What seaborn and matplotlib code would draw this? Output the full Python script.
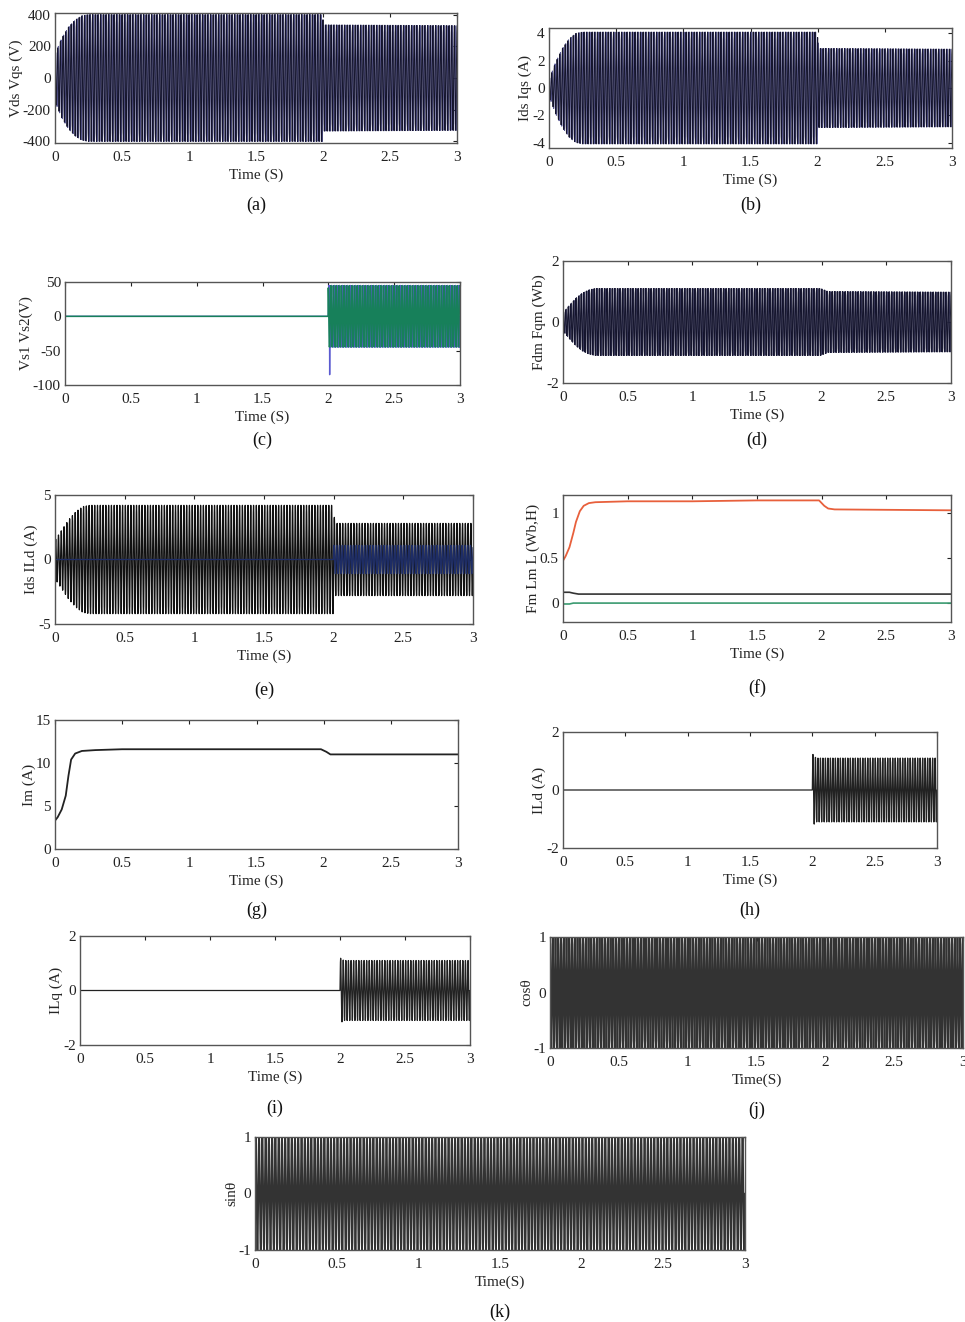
import numpy as np
import pandas as pd
import matplotlib
matplotlib.use("Agg")
import matplotlib.pyplot as plt
import matplotlib.transforms as mtransforms
import seaborn as sns

# ---- values ----
freq_hz = 50.0                      # stator supply frequency
t_grid = np.linspace(0, 3, 1801)    # simulation time axis (s)

# (a) Vds / Vqs envelope
va_t = [0, 0.05, 0.1, 0.15, 0.2, 0.25, 1.995, 2.005, 3.0]
va_amp = [150, 250, 320, 365, 392, 400, 400, 335, 330]

# (b) Ids / Iqs envelope
ib_t = [0, 0.05, 0.1, 0.15, 0.2, 0.25, 1.995, 2.01, 3.0]
ib_amp = [0.6, 1.9, 2.9, 3.6, 4.0, 4.1, 4.1, 2.9, 2.85]

# (c) Vs1 / Vs2 : zero before 2 s, then +-45 V, first dip -85 V
vc_t = [0, 1.999, 2.0, 3.0]
vc_amp = [0, 0, 45, 45]
vc_dip = -85

# (d) Fdm / Fqm envelope
fd_t = [0, 0.05, 0.1, 0.15, 0.2, 0.25, 1.99, 2.05, 3.0]
fd_amp = [0.3, 0.55, 0.78, 0.95, 1.05, 1.1, 1.1, 1.0, 0.98]

# (e) Ids envelope and ILd envelope
ie_t = [0, 0.05, 0.1, 0.15, 0.2, 0.25, 1.995, 2.01, 3.0]
ie_amp = [1.5, 2.3, 3.1, 3.7, 4.1, 4.2, 4.2, 2.8, 2.8]
ild_e_t = [0, 1.999, 2.0, 3.0]
ild_e_amp = [0, 0, 1.1, 1.1]

# (f) Fm, Lm, L
fm_t = [0, 0.02, 0.05, 0.08, 0.1, 0.13, 0.16, 0.2, 0.25, 0.5, 1.0, 1.5, 1.98, 2.02, 2.05, 2.1, 3.0]
fm_val = [0.47, 0.52, 0.62, 0.78, 0.9, 1.02, 1.08, 1.11, 1.12, 1.13, 1.13, 1.14, 1.14, 1.08, 1.05, 1.04, 1.03]
lm_t = [0, 0.05, 0.08, 0.12, 3.0]
lm_val = [0.12, 0.12, 0.11, 0.1, 0.1]
l_t = [0, 0.05, 0.08, 0.12, 3.0]
l_val = [-0.01, -0.01, 0.0, 0.0, 0.0]

# (g) Im
im_t = [0, 0.02, 0.05, 0.08, 0.1, 0.12, 0.15, 0.2, 0.3, 0.5, 1.0, 1.98, 2.02, 2.05, 3.0]
im_val = [3.3, 3.7, 4.6, 6.2, 8.5, 10.4, 11.1, 11.4, 11.5, 11.6, 11.6, 11.6, 11.3, 11.0, 11.0]

# (h) ILd, (i) ILq
ilh_t = [0, 1.999, 2.0, 2.03, 3.0]
ilh_amp = [0, 0, 1.25, 1.1, 1.1]
ili_t = [0, 1.999, 2.0, 2.03, 3.0]
ili_amp = [0, 0, 1.2, 1.1, 1.1]

xticks = [0, 0.5, 1, 1.5, 2, 2.5, 3]
xtick_labels = ["0", "0.5", "1", "1.5", "2", "2.5", "3"]

W, H = 965, 1322
sns.set_theme(style="white")
plt.rcParams["font.family"] = ["Liberation Serif", "DejaVu Serif"]

fig = plt.figure(figsize=(W / 100, H / 100), dpi=100)
fig.patch.set_facecolor("white")


def px_axes(l, t, r, b):
    return fig.add_axes([l / W, 1 - b / H, (r - l) / W, (b - t) / H])


def envelope(tk, ak):
    return np.interp(t_grid, tk, ak)


def draw(ax, x, y, color, lw=0.7):
    df = pd.DataFrame({"t": x, "v": y})
    sns.lineplot(data=df, x="t", y="v", ax=ax, color=color, linewidth=lw,
                 estimator=None, sort=False)


def style(ax, ylim, yticks, ylabel, tag, tag_px, xlabel="Time (S)", xmax=3):
    ax.set_xlim(0, xmax)
    ax.set_ylim(*ylim)
    ax.set_xticks(xticks)
    ax.set_xticklabels(xtick_labels)
    ax.set_yticks(yticks)
    ax.set_yticklabels([f"{v:g}" for v in yticks])
    ax.tick_params(direction="in", top=True, right=True, length=3, width=0.8,
                   labelsize=11, colors="#222222")
    ax.tick_params(axis="x", pad=6)
    ax.tick_params(axis="y", pad=3)
    for s in ax.spines.values():
        s.set_color("#555555")
        s.set_linewidth(1.0)
    ax.set_xlabel(xlabel, fontsize=11, labelpad=3)
    ax.set_ylabel(ylabel, fontsize=11, labelpad=0)
    trans = mtransforms.offset_copy(ax.transAxes, fig=fig, x=0, y=-tag_px, units="dots")
    ax.text(0.5, 0.0, tag, transform=trans, ha="center", va="center",
            fontsize=13, color="#111111")


wt = 2 * np.pi * freq_hz * t_grid

# (a)
ax = px_axes(55, 13, 457, 143)
env = envelope(va_t, va_amp)
draw(ax, t_grid, env * np.sin(wt), "#5a5a96")
draw(ax, t_grid, env * np.cos(wt), "#14142c")
style(ax, (-410, 410), [-400, -200, 0, 200, 400], "Vds Vqs (V)", "(a)", 62)

# (b)
ax = px_axes(549, 28, 952, 148)
env = envelope(ib_t, ib_amp)
draw(ax, t_grid, env * np.sin(wt), "#5a5a96")
draw(ax, t_grid, env * np.cos(wt), "#14142c")
style(ax, (-4.4, 4.4), [-4, -2, 0, 2, 4], "Ids Iqs (A)", "(b)", 57)

# (c)
ax = px_axes(65, 282, 460, 385)
env = envelope(vc_t, vc_amp)
v1 = env * np.sin(wt)
v2 = env * np.cos(wt + 0.4)
v1[t_grid.searchsorted(2.01)] = vc_dip
draw(ax, t_grid, v1, "#5a5ad0", lw=1.0)
draw(ax, t_grid, v2, "#17805a", lw=1.1)
style(ax, (-100, 50), [-100, -50, 0, 50], "Vs1 Vs2(V)", "(c)", 55)

# (d)
ax = px_axes(563, 261, 951, 383)
env = envelope(fd_t, fd_amp)
draw(ax, t_grid, env * np.sin(wt), "#3c3c60")
draw(ax, t_grid, env * np.cos(wt), "#14142c")
style(ax, (-2, 2), [-2, 0, 2], "Fdm Fqm (Wb)", "(d)", 57)

# (e)
ax = px_axes(55, 495, 473, 624)
env = envelope(ie_t, ie_amp)
draw(ax, t_grid, env * np.sin(wt), "#111111", lw=0.9)
draw(ax, t_grid, envelope(ild_e_t, ild_e_amp) * np.sin(wt + 1.0), "#1e2d66", lw=0.9)
style(ax, (-5, 5), [-5, 0, 5], "Ids ILd (A)", "(e)", 66)

# (f)
ax = px_axes(563, 495, 951, 622)
draw(ax, fm_t, fm_val, "#e8603c", lw=1.3)
draw(ax, lm_t, lm_val, "#333333", lw=1.2)
draw(ax, l_t, l_val, "#3a9a70", lw=1.2)
style(ax, (-0.21, 1.2), [0, 0.5, 1], "Fm Lm L (Wb,H)", "(f)", 66)

# (g)
ax = px_axes(55, 720, 458, 849)
draw(ax, im_t, im_val, "#222222", lw=1.3)
style(ax, (0, 15), [0, 5, 10, 15], "Im (A)", "(g)", 61)

# (h)
ax = px_axes(563, 732, 937, 848)
draw(ax, t_grid, envelope(ilh_t, ilh_amp) * np.sin(wt), "#222222", lw=0.9)
style(ax, (-2, 2), [-2, 0, 2], "ILd (A)", "(h)", 62)

# (i)
ax = px_axes(80, 936, 470, 1045)
draw(ax, t_grid, envelope(ili_t, ili_amp) * np.sin(wt), "#222222", lw=0.9)
style(ax, (-2, 2), [-2, 0, 2], "ILq (A)", "(i)", 63)

# (j)
ax = px_axes(550, 937, 963, 1048)
draw(ax, t_grid, np.cos(wt), "#333333", lw=1.3)
style(ax, (-1, 1), [-1, 0, 1], "cosθ", "(j)", 62, xlabel="Time(S)")

# (k)
ax = px_axes(255, 1137, 745, 1250)
draw(ax, t_grid, np.sin(wt), "#333333", lw=1.3)
style(ax, (-1, 1), [-1, 0, 1], "sinθ", "(k)", 62, xlabel="Time(S)")

fig.savefig("out.png", dpi=100, facecolor="white")
